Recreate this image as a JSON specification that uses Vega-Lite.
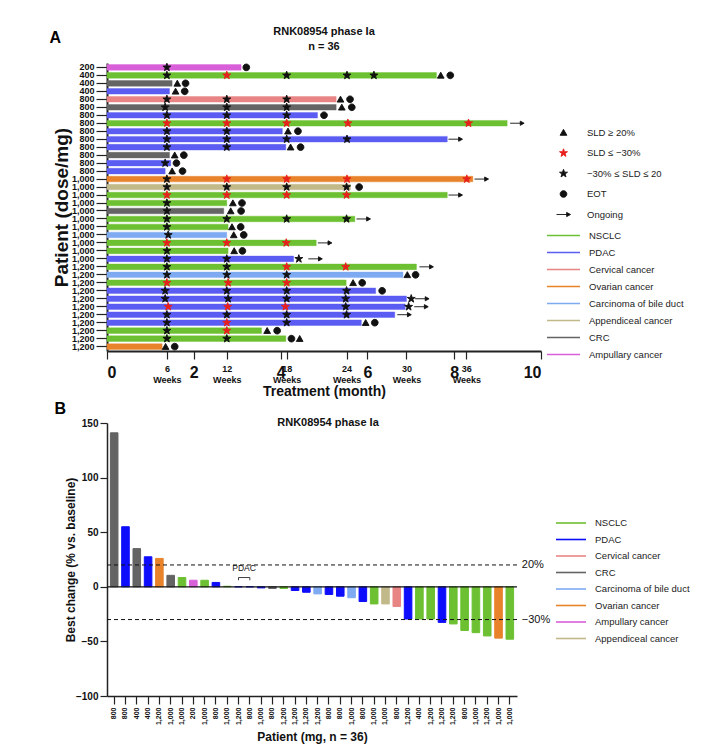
{
  "$schema": "https://vega.github.io/schema/vega-lite/v6.json",
  "padding": {"left": 49, "top": 26, "right": 5, "bottom": 3},
  "config": {
    "font": "Liberation Sans",
    "view": {"stroke": null},
    "axis": {"grid": false, "domainColor": "#222", "tickColor": "#222", "labelColor": "#111", "titleColor": "#111", "labelFontWeight": "bold", "titleFontWeight": "bold"},
    "legend": {"labelFont": "Liberation Sans", "labelColor": "#222", "padding": 0}
  },
  "spacing": 3,
  "resolve": {"scale": {"color": "independent", "shape": "independent", "stroke": "independent"}},
  "vconcat": [
    {
      "title": {"text": "A", "anchor": "start", "fontSize": 16, "fontWeight": "bold", "dy": 24, "dx": -3},
      "vconcat": [
        {
          "width": 434,
          "height": 288,
          "title": {"text": "RNK08954 phase Ia", "subtitle": "n = 36", "fontSize": 11, "fontWeight": "bold", "subtitleFontSize": 11, "subtitleFontWeight": "bold", "subtitleColor": "#111", "subtitlePadding": 4, "color": "#111", "offset": 9, "anchor": "middle"},
          "encoding": {
            "y": {"field": "p", "type": "nominal", "scale": {"paddingInner": 0.3, "paddingOuter": 0.2},
              "axis": {"title": "Patient (dose/mg)", "titleFontSize": 19, "labelFontSize": 9, "tickSize": 11, "labelPadding": 2, "domainWidth": 2, "tickWidth": 1.2, "labelExpr": "split(datum.value, '|')[1]", "titlePadding": 0}}
          },
          "layer": [
            {
              "data": {"values": [
                {"p": "01|200", "cancer": "Ampullary cancer", "end": 3.09},
                {"p": "02|400", "cancer": "NSCLC", "end": 7.59},
                {"p": "03|400", "cancer": "CRC", "end": 1.50},
                {"p": "04|400", "cancer": "PDAC", "end": 1.44},
                {"p": "05|800", "cancer": "Cervical cancer", "end": 5.28},
                {"p": "06|800", "cancer": "CRC", "end": 5.28},
                {"p": "07|800", "cancer": "PDAC", "end": 4.85},
                {"p": "08|800", "cancer": "NSCLC", "end": 9.22},
                {"p": "09|800", "cancer": "PDAC", "end": 4.04},
                {"p": "10|800", "cancer": "PDAC", "end": 7.84},
                {"p": "11|800", "cancer": "PDAC", "end": 4.12},
                {"p": "12|800", "cancer": "CRC", "end": 1.44},
                {"p": "13|800", "cancer": "PDAC", "end": 1.47},
                {"p": "14|800", "cancer": "PDAC", "end": 1.34},
                {"p": "15|1,000", "cancer": "Ovarian cancer", "end": 8.43},
                {"p": "16|1,000", "cancer": "Appendiceal cancer", "end": 5.61},
                {"p": "17|1,000", "cancer": "NSCLC", "end": 7.84},
                {"p": "18|1,000", "cancer": "NSCLC", "end": 2.76},
                {"p": "19|1,000", "cancer": "CRC", "end": 2.69},
                {"p": "20|1,000", "cancer": "NSCLC", "end": 5.71},
                {"p": "21|1,000", "cancer": "NSCLC", "end": 2.79},
                {"p": "22|1,000", "cancer": "Carcinoma of bile duct", "end": 2.76},
                {"p": "23|1,000", "cancer": "NSCLC", "end": 4.82},
                {"p": "24|1,000", "cancer": "NSCLC", "end": 2.79},
                {"p": "25|1,000", "cancer": "PDAC", "end": 4.30},
                {"p": "26|1,200", "cancer": "NSCLC", "end": 7.13},
                {"p": "27|1,200", "cancer": "Carcinoma of bile duct", "end": 6.82},
                {"p": "28|1,200", "cancer": "NSCLC", "end": 5.51},
                {"p": "29|1,200", "cancer": "PDAC", "end": 6.19},
                {"p": "30|1,200", "cancer": "PDAC", "end": 6.90},
                {"p": "31|1,200", "cancer": "PDAC", "end": 6.87},
                {"p": "32|1,200", "cancer": "PDAC", "end": 6.63},
                {"p": "33|1,200", "cancer": "PDAC", "end": 5.86},
                {"p": "34|1,200", "cancer": "NSCLC", "end": 3.56},
                {"p": "35|1,200", "cancer": "NSCLC", "end": 4.12},
                {"p": "36|1,200", "cancer": "Ovarian cancer", "end": 1.27}
              ]},
              "mark": {"type": "bar", "strokeWidth": 0.4},
              "encoding": {
                "x": {"field": "end", "type": "quantitative", "scale": {"domain": [0, 10], "nice": false},
                  "axis": {"orient": "bottom", "values": [0, 2, 4, 6, 8, 10], "format": "d", "labelFontSize": 16, "tickSize": 8, "tickWidth": 1.2, "domainWidth": 2, "labelPadding": 5, "title": "Treatment (month)", "titleFontSize": 14, "titlePadding": 4}},
                "color": {"field": "cancer", "type": "nominal",
                  "scale": {"domain": ["NSCLC", "PDAC", "Cervical cancer", "Ovarian cancer", "Carcinoma of bile duct", "Appendiceal cancer", "CRC", "Ampullary cancer"],
                    "range": ["#6cc031", "#5b5cf2", "#e88484", "#e8832b", "#7eaaf2", "#c2b98a", "#646464", "#d95fd9"]},
                  "legend": {"title": null, "orient": "none", "legendX": 450, "legendY": 166, "symbolType": "M-3,0L3,0", "symbolSize": 121, "symbolStrokeWidth": 1.6, "labelFontSize": 9.5, "labelOffset": 19, "rowPadding": 6}},
                "stroke": {"field": "cancer", "type": "nominal",
                  "scale": {"domain": ["NSCLC", "PDAC", "Cervical cancer", "Ovarian cancer", "Carcinoma of bile duct", "Appendiceal cancer", "CRC", "Ampullary cancer"],
                    "range": ["#6cc031", "#5b5cf2", "#e88484", "#e8832b", "#7eaaf2", "#c2b98a", "#646464", "#d95fd9"]},
                  "legend": {"title": null, "orient": "none", "legendX": 450, "legendY": 166, "symbolType": "M-3,0L3,0", "symbolSize": 121, "symbolStrokeWidth": 1.6, "labelFontSize": 9.5, "labelOffset": 19, "rowPadding": 6}}
              }
            },
            {
              "data": {"values": [
                {"p": "01|200", "t": 1.38, "m": "−30% ≤ SLD ≤ 20"}, {"p": "01|200", "t": 3.21, "m": "EOT"},
                {"p": "02|400", "t": 1.38, "m": "−30% ≤ SLD ≤ 20"}, {"p": "02|400", "t": 2.76, "m": "SLD ≤ −30%"}, {"p": "02|400", "t": 4.14, "m": "−30% ≤ SLD ≤ 20"}, {"p": "02|400", "t": 5.53, "m": "−30% ≤ SLD ≤ 20"}, {"p": "02|400", "t": 6.15, "m": "−30% ≤ SLD ≤ 20"}, {"p": "02|400", "t": 7.69, "m": "SLD ≥ 20%"}, {"p": "02|400", "t": 7.91, "m": "EOT"},
                {"p": "03|400", "t": 1.62, "m": "SLD ≥ 20%"}, {"p": "03|400", "t": 1.81, "m": "EOT"},
                {"p": "04|400", "t": 1.58, "m": "SLD ≥ 20%"}, {"p": "04|400", "t": 1.79, "m": "EOT"},
                {"p": "05|800", "t": 1.38, "m": "−30% ≤ SLD ≤ 20"}, {"p": "05|800", "t": 2.76, "m": "−30% ≤ SLD ≤ 20"}, {"p": "05|800", "t": 4.14, "m": "−30% ≤ SLD ≤ 20"}, {"p": "05|800", "t": 5.38, "m": "SLD ≥ 20%"}, {"p": "05|800", "t": 5.60, "m": "EOT"},
                {"p": "06|800", "t": 1.34, "m": "−30% ≤ SLD ≤ 20"}, {"p": "06|800", "t": 2.76, "m": "−30% ≤ SLD ≤ 20"}, {"p": "06|800", "t": 4.14, "m": "−30% ≤ SLD ≤ 20"}, {"p": "06|800", "t": 5.41, "m": "SLD ≥ 20%"}, {"p": "06|800", "t": 5.64, "m": "EOT"},
                {"p": "07|800", "t": 1.38, "m": "−30% ≤ SLD ≤ 20"}, {"p": "07|800", "t": 2.76, "m": "−30% ≤ SLD ≤ 20"}, {"p": "07|800", "t": 4.14, "m": "−30% ≤ SLD ≤ 20"}, {"p": "07|800", "t": 5.00, "m": "EOT"},
                {"p": "08|800", "t": 1.38, "m": "SLD ≤ −30%"}, {"p": "08|800", "t": 2.76, "m": "SLD ≤ −30%"}, {"p": "08|800", "t": 4.14, "m": "SLD ≤ −30%"}, {"p": "08|800", "t": 5.55, "m": "SLD ≤ −30%"}, {"p": "08|800", "t": 8.33, "m": "SLD ≤ −30%"}, {"p": "08|800", "t": 9.45, "m": "Ongoing"},
                {"p": "09|800", "t": 1.38, "m": "−30% ≤ SLD ≤ 20"}, {"p": "09|800", "t": 2.76, "m": "−30% ≤ SLD ≤ 20"}, {"p": "09|800", "t": 4.17, "m": "SLD ≥ 20%"}, {"p": "09|800", "t": 4.40, "m": "EOT"},
                {"p": "10|800", "t": 1.38, "m": "−30% ≤ SLD ≤ 20"}, {"p": "10|800", "t": 2.76, "m": "−30% ≤ SLD ≤ 20"}, {"p": "10|800", "t": 4.14, "m": "−30% ≤ SLD ≤ 20"}, {"p": "10|800", "t": 5.53, "m": "−30% ≤ SLD ≤ 20"}, {"p": "10|800", "t": 8.03, "m": "Ongoing"},
                {"p": "11|800", "t": 1.38, "m": "−30% ≤ SLD ≤ 20"}, {"p": "11|800", "t": 2.76, "m": "−30% ≤ SLD ≤ 20"}, {"p": "11|800", "t": 4.23, "m": "SLD ≥ 20%"}, {"p": "11|800", "t": 4.46, "m": "EOT"},
                {"p": "12|800", "t": 1.56, "m": "SLD ≥ 20%"}, {"p": "12|800", "t": 1.77, "m": "EOT"},
                {"p": "13|800", "t": 1.34, "m": "−30% ≤ SLD ≤ 20"}, {"p": "13|800", "t": 1.60, "m": "EOT"},
                {"p": "14|800", "t": 1.50, "m": "SLD ≥ 20%"}, {"p": "14|800", "t": 1.74, "m": "EOT"},
                {"p": "15|1,000", "t": 1.38, "m": "−30% ≤ SLD ≤ 20"}, {"p": "15|1,000", "t": 2.76, "m": "SLD ≤ −30%"}, {"p": "15|1,000", "t": 4.14, "m": "SLD ≤ −30%"}, {"p": "15|1,000", "t": 5.53, "m": "SLD ≤ −30%"}, {"p": "15|1,000", "t": 8.29, "m": "SLD ≤ −30%"}, {"p": "15|1,000", "t": 8.63, "m": "Ongoing"},
                {"p": "16|1,000", "t": 1.38, "m": "−30% ≤ SLD ≤ 20"}, {"p": "16|1,000", "t": 2.76, "m": "−30% ≤ SLD ≤ 20"}, {"p": "16|1,000", "t": 4.14, "m": "−30% ≤ SLD ≤ 20"}, {"p": "16|1,000", "t": 5.52, "m": "−30% ≤ SLD ≤ 20"}, {"p": "16|1,000", "t": 5.81, "m": "EOT"},
                {"p": "17|1,000", "t": 1.38, "m": "SLD ≤ −30%"}, {"p": "17|1,000", "t": 2.76, "m": "SLD ≤ −30%"}, {"p": "17|1,000", "t": 4.14, "m": "SLD ≤ −30%"}, {"p": "17|1,000", "t": 5.52, "m": "SLD ≤ −30%"}, {"p": "17|1,000", "t": 8.03, "m": "Ongoing"},
                {"p": "18|1,000", "t": 1.38, "m": "−30% ≤ SLD ≤ 20"}, {"p": "18|1,000", "t": 2.90, "m": "SLD ≥ 20%"}, {"p": "18|1,000", "t": 3.11, "m": "EOT"},
                {"p": "19|1,000", "t": 1.38, "m": "−30% ≤ SLD ≤ 20"}, {"p": "19|1,000", "t": 2.85, "m": "SLD ≥ 20%"}, {"p": "19|1,000", "t": 3.09, "m": "EOT"},
                {"p": "20|1,000", "t": 1.38, "m": "−30% ≤ SLD ≤ 20"}, {"p": "20|1,000", "t": 2.76, "m": "−30% ≤ SLD ≤ 20"}, {"p": "20|1,000", "t": 4.14, "m": "−30% ≤ SLD ≤ 20"}, {"p": "20|1,000", "t": 5.52, "m": "−30% ≤ SLD ≤ 20"}, {"p": "20|1,000", "t": 5.91, "m": "Ongoing"},
                {"p": "21|1,000", "t": 1.38, "m": "−30% ≤ SLD ≤ 20"}, {"p": "21|1,000", "t": 2.88, "m": "SLD ≥ 20%"}, {"p": "21|1,000", "t": 3.08, "m": "EOT"},
                {"p": "22|1,000", "t": 1.41, "m": "−30% ≤ SLD ≤ 20"}, {"p": "22|1,000", "t": 2.92, "m": "SLD ≥ 20%"}, {"p": "22|1,000", "t": 3.15, "m": "EOT"},
                {"p": "23|1,000", "t": 1.38, "m": "SLD ≤ −30%"}, {"p": "23|1,000", "t": 2.76, "m": "SLD ≤ −30%"}, {"p": "23|1,000", "t": 4.13, "m": "SLD ≤ −30%"}, {"p": "23|1,000", "t": 5.02, "m": "Ongoing"},
                {"p": "24|1,000", "t": 1.38, "m": "−30% ≤ SLD ≤ 20"}, {"p": "24|1,000", "t": 2.93, "m": "SLD ≥ 20%"}, {"p": "24|1,000", "t": 3.12, "m": "EOT"},
                {"p": "25|1,000", "t": 1.38, "m": "−30% ≤ SLD ≤ 20"}, {"p": "25|1,000", "t": 2.76, "m": "−30% ≤ SLD ≤ 20"}, {"p": "25|1,000", "t": 4.42, "m": "−30% ≤ SLD ≤ 20"}, {"p": "25|1,000", "t": 4.80, "m": "Ongoing"},
                {"p": "26|1,200", "t": 1.38, "m": "−30% ≤ SLD ≤ 20"}, {"p": "26|1,200", "t": 2.76, "m": "−30% ≤ SLD ≤ 20"}, {"p": "26|1,200", "t": 4.14, "m": "SLD ≤ −30%"}, {"p": "26|1,200", "t": 5.50, "m": "SLD ≤ −30%"}, {"p": "26|1,200", "t": 7.36, "m": "Ongoing"},
                {"p": "27|1,200", "t": 1.38, "m": "−30% ≤ SLD ≤ 20"}, {"p": "27|1,200", "t": 2.76, "m": "−30% ≤ SLD ≤ 20"}, {"p": "27|1,200", "t": 4.14, "m": "−30% ≤ SLD ≤ 20"}, {"p": "27|1,200", "t": 6.92, "m": "SLD ≥ 20%"}, {"p": "27|1,200", "t": 7.11, "m": "EOT"},
                {"p": "28|1,200", "t": 1.38, "m": "SLD ≤ −30%"}, {"p": "28|1,200", "t": 2.79, "m": "SLD ≤ −30%"}, {"p": "28|1,200", "t": 4.14, "m": "SLD ≤ −30%"}, {"p": "28|1,200", "t": 5.67, "m": "SLD ≥ 20%"}, {"p": "28|1,200", "t": 5.88, "m": "EOT"},
                {"p": "29|1,200", "t": 1.34, "m": "−30% ≤ SLD ≤ 20"}, {"p": "29|1,200", "t": 2.76, "m": "−30% ≤ SLD ≤ 20"}, {"p": "29|1,200", "t": 4.14, "m": "−30% ≤ SLD ≤ 20"}, {"p": "29|1,200", "t": 5.52, "m": "−30% ≤ SLD ≤ 20"}, {"p": "29|1,200", "t": 6.34, "m": "EOT"},
                {"p": "30|1,200", "t": 1.34, "m": "−30% ≤ SLD ≤ 20"}, {"p": "30|1,200", "t": 2.79, "m": "−30% ≤ SLD ≤ 20"}, {"p": "30|1,200", "t": 4.14, "m": "−30% ≤ SLD ≤ 20"}, {"p": "30|1,200", "t": 5.50, "m": "−30% ≤ SLD ≤ 20"}, {"p": "30|1,200", "t": 7.01, "m": "−30% ≤ SLD ≤ 20"}, {"p": "30|1,200", "t": 7.26, "m": "Ongoing"},
                {"p": "31|1,200", "t": 1.41, "m": "SLD ≤ −30%"}, {"p": "31|1,200", "t": 2.78, "m": "SLD ≤ −30%"}, {"p": "31|1,200", "t": 4.11, "m": "SLD ≤ −30%"}, {"p": "31|1,200", "t": 5.50, "m": "−30% ≤ SLD ≤ 20"}, {"p": "31|1,200", "t": 6.95, "m": "−30% ≤ SLD ≤ 20"}, {"p": "31|1,200", "t": 7.24, "m": "Ongoing"},
                {"p": "32|1,200", "t": 1.38, "m": "−30% ≤ SLD ≤ 20"}, {"p": "32|1,200", "t": 2.76, "m": "−30% ≤ SLD ≤ 20"}, {"p": "32|1,200", "t": 4.14, "m": "−30% ≤ SLD ≤ 20"}, {"p": "32|1,200", "t": 5.52, "m": "−30% ≤ SLD ≤ 20"}, {"p": "32|1,200", "t": 6.85, "m": "Ongoing"},
                {"p": "33|1,200", "t": 1.38, "m": "−30% ≤ SLD ≤ 20"}, {"p": "33|1,200", "t": 2.76, "m": "SLD ≤ −30%"}, {"p": "33|1,200", "t": 4.14, "m": "−30% ≤ SLD ≤ 20"}, {"p": "33|1,200", "t": 5.96, "m": "SLD ≥ 20%"}, {"p": "33|1,200", "t": 6.17, "m": "EOT"},
                {"p": "34|1,200", "t": 1.38, "m": "−30% ≤ SLD ≤ 20"}, {"p": "34|1,200", "t": 2.76, "m": "SLD ≤ −30%"}, {"p": "34|1,200", "t": 3.69, "m": "SLD ≥ 20%"}, {"p": "34|1,200", "t": 3.92, "m": "EOT"},
                {"p": "35|1,200", "t": 1.38, "m": "−30% ≤ SLD ≤ 20"}, {"p": "35|1,200", "t": 2.76, "m": "−30% ≤ SLD ≤ 20"}, {"p": "35|1,200", "t": 4.25, "m": "EOT"}, {"p": "35|1,200", "t": 4.44, "m": "SLD ≥ 20%"},
                {"p": "36|1,200", "t": 1.35, "m": "SLD ≥ 20%"}, {"p": "36|1,200", "t": 1.56, "m": "EOT"}
              ]},
              "mark": {"type": "point", "filled": true, "opacity": 1, "size": 196, "strokeWidth": 0.9},
              "encoding": {
                "x": {"field": "t", "type": "quantitative", "scale": {"domain": [0, 10], "nice": false},
                  "axis": {"orient": "bottom", "values": [1.38, 2.76, 4.14, 5.52, 6.9, 8.28], "labelExpr": "['' + round(datum.value * 30.44 / 7), 'Weeks']", "labelFontSize": 9, "labelLineHeight": 11, "labelPadding": 5, "tickSize": 8, "tickWidth": 1.2, "domain": false, "title": null,
                    "encode": {"labels": {"update": {"dx": {"signal": "datum.value > 4 && datum.value < 4.5 ? 5 : (datum.value > 8 ? 3 : 0)"}}}}}},
                "shape": {"field": "m", "type": "nominal",
                  "scale": {"domain": ["SLD ≥ 20%", "SLD ≤ −30%", "−30% ≤ SLD ≤ 20", "EOT", "Ongoing"],
                    "range": ["M0,-0.45L0.48,0.4L-0.48,0.4Z", "M0,-0.6L0.141,-0.194L0.571,-0.185L0.228,0.074L0.353,0.485L0,0.24L-0.353,0.485L-0.228,0.074L-0.571,-0.185L-0.141,-0.194Z", "M0,-0.6L0.141,-0.194L0.571,-0.185L0.228,0.074L0.353,0.485L0,0.24L-0.353,0.485L-0.228,0.074L-0.571,-0.185L-0.141,-0.194Z", "M0.48,0A0.48,0.48,0,1,1,-0.48,0A0.48,0.48,0,1,1,0.48,0Z", "M-1,0L0.7,0M0.45,-0.3L1,0L0.45,0.3Z"]},
                  "legend": {"title": null, "orient": "none", "legendX": 449, "legendY": 62, "symbolSize": 196, "symbolStrokeWidth": 0.9, "labelFontSize": 9.5, "labelOffset": 16, "rowPadding": 7.5}},
                "color": {"field": "m", "type": "nominal",
                  "scale": {"domain": ["SLD ≥ 20%", "SLD ≤ −30%", "−30% ≤ SLD ≤ 20", "EOT", "Ongoing"], "range": ["#111", "#e8201c", "#111", "#111", "#111"]},
                  "legend": {"title": null, "orient": "none", "legendX": 449, "legendY": 62, "symbolSize": 196, "symbolStrokeWidth": 0.9, "labelFontSize": 9.5, "labelOffset": 16, "rowPadding": 7.5}},
                "stroke": {"field": "m", "type": "nominal",
                  "scale": {"domain": ["SLD ≥ 20%", "SLD ≤ −30%", "−30% ≤ SLD ≤ 20", "EOT", "Ongoing"], "range": ["#111", "#e8201c", "#111", "#111", "#111"]},
                  "legend": {"title": null, "orient": "none", "legendX": 449, "legendY": 62, "symbolSize": 196, "symbolStrokeWidth": 0.9, "labelFontSize": 9.5, "labelOffset": 16, "rowPadding": 7.5}}
              }
            }
          ],
          "resolve": {"scale": {"color": "independent", "stroke": "independent", "shape": "independent"}, "axis": {"x": "independent"}}
        }
      ]
    },
    {
      "title": {"text": "B", "anchor": "start", "fontSize": 16, "fontWeight": "bold", "dy": 4, "dx": -10},
      "vconcat": [
        {
          "width": 410,
          "height": 273,
          "title": {"text": "RNK08954 phase Ia", "fontSize": 11, "fontWeight": "bold", "color": "#111", "offset": -10, "dx": 16, "anchor": "middle"},
          "layer": [
            {
              "data": {"values": [
                {"p": "01|800", "cancer": "CRC", "v": 141},
                {"p": "02|800", "cancer": "PDAC", "v": 55},
                {"p": "03|400", "cancer": "CRC", "v": 35},
                {"p": "04|400", "cancer": "PDAC", "v": 27.5},
                {"p": "05|1,200", "cancer": "Ovarian cancer", "v": 26},
                {"p": "06|1,000", "cancer": "CRC", "v": 10.5},
                {"p": "07|1,000", "cancer": "NSCLC", "v": 8.5},
                {"p": "08|200", "cancer": "Ampullary cancer", "v": 6},
                {"p": "09|1,000", "cancer": "NSCLC", "v": 6},
                {"p": "10|800", "cancer": "PDAC", "v": 4},
                {"p": "11|1,000", "cancer": "NSCLC", "v": 0.5},
                {"p": "12|1,200", "cancer": "PDAC", "v": 0},
                {"p": "13|800", "cancer": "PDAC", "v": 0},
                {"p": "14|1,000", "cancer": "PDAC", "v": -1},
                {"p": "15|800", "cancer": "CRC", "v": -1.5},
                {"p": "16|1,200", "cancer": "NSCLC", "v": -1.5},
                {"p": "17|1,200", "cancer": "PDAC", "v": -3.4},
                {"p": "18|1,200", "cancer": "PDAC", "v": -5},
                {"p": "19|1,200", "cancer": "Carcinoma of bile duct", "v": -6.5},
                {"p": "20|800", "cancer": "PDAC", "v": -7},
                {"p": "21|800", "cancer": "PDAC", "v": -8.6},
                {"p": "22|1,000", "cancer": "Carcinoma of bile duct", "v": -10},
                {"p": "23|800", "cancer": "PDAC", "v": -13.5},
                {"p": "24|1,000", "cancer": "NSCLC", "v": -15.7},
                {"p": "25|1,000", "cancer": "Appendiceal cancer", "v": -15.7},
                {"p": "26|800", "cancer": "Cervical cancer", "v": -18},
                {"p": "27|1,200", "cancer": "PDAC", "v": -29.5},
                {"p": "28|400", "cancer": "NSCLC", "v": -29.5},
                {"p": "29|1,200", "cancer": "NSCLC", "v": -29.5},
                {"p": "30|1,200", "cancer": "PDAC", "v": -32.6},
                {"p": "31|1,200", "cancer": "NSCLC", "v": -34},
                {"p": "32|800", "cancer": "NSCLC", "v": -40},
                {"p": "33|1,000", "cancer": "NSCLC", "v": -42},
                {"p": "34|1,200", "cancer": "NSCLC", "v": -45},
                {"p": "35|1,000", "cancer": "Ovarian cancer", "v": -47},
                {"p": "36|1,000", "cancer": "NSCLC", "v": -48}
              ]},
              "mark": {"type": "bar"},
              "encoding": {
                "x": {"field": "p", "type": "nominal", "scale": {"paddingInner": 0.33, "paddingOuter": 0.3},
                  "axis": {"labelExpr": "split(datum.value, '|')[1]", "labelAngle": -90, "labelFontSize": 7, "tickSize": 8, "tickWidth": 1.2, "domainWidth": 1.5, "labelPadding": 3, "title": "Patient (mg, n = 36)", "titleFontSize": 12, "titlePadding": 7}},
                "y": {"field": "v", "type": "quantitative", "scale": {"domain": [-100, 150], "nice": false},
                  "axis": {"values": [-100, -75, -50, -25, 0, 25, 50, 75, 100, 125, 150], "labelFontSize": 10, "tickSize": 7, "tickWidth": 1.2, "domainWidth": 1.5, "title": "Best change (% vs. baseline)", "titleFontSize": 12, "titlePadding": -2}},
                "color": {"field": "cancer", "type": "nominal",
                  "scale": {"domain": ["NSCLC", "PDAC", "Cervical cancer", "CRC", "Carcinoma of bile duct", "Ovarian cancer", "Ampullary cancer", "Appendiceal cancer"],
                    "range": ["#6cc031", "#0d0dfb", "#e88484", "#646464", "#7eaaf2", "#e8832b", "#d95fd9", "#c2b98a"]},
                  "legend": {"title": null, "orient": "none", "legendX": 458, "legendY": 94, "symbolType": "M-3,0L3,0", "symbolSize": 100, "symbolStrokeWidth": 1.6, "labelFontSize": 9.5, "labelOffset": 18, "rowPadding": 5.5}},
                "stroke": {"field": "cancer", "type": "nominal",
                  "scale": {"domain": ["NSCLC", "PDAC", "Cervical cancer", "CRC", "Carcinoma of bile duct", "Ovarian cancer", "Ampullary cancer", "Appendiceal cancer"],
                    "range": ["#6cc031", "#0d0dfb", "#e88484", "#646464", "#7eaaf2", "#e8832b", "#d95fd9", "#c2b98a"]},
                  "legend": {"title": null, "orient": "none", "legendX": 458, "legendY": 94, "symbolType": "M-3,0L3,0", "symbolSize": 100, "symbolStrokeWidth": 1.6, "labelFontSize": 9.5, "labelOffset": 18, "rowPadding": 5.5}}
              }
            },
            {
              "data": {"values": [{"v": 0}]},
              "mark": {"type": "rule", "color": "#111", "strokeWidth": 1.3},
              "encoding": {"y": {"field": "v", "type": "quantitative"}}
            },
            {
              "data": {"values": [{"v": 20, "lab": "20%"}, {"v": -30, "lab": "−30%"}]},
              "layer": [
                {
                  "mark": {"type": "rule", "color": "#111", "strokeWidth": 1, "strokeDash": [4, 3]},
                  "encoding": {"y": {"field": "v", "type": "quantitative"}}
                },
                {
                  "mark": {"type": "text", "align": "left", "dx": 12, "fontSize": 11, "color": "#111"},
                  "encoding": {"x": {"datum": "36|1,000"}, "y": {"field": "v", "type": "quantitative"}, "text": {"field": "lab"}}
                }
              ]
            },
            {
              "data": {"values": [{"a": "12|1,200", "b": "13|800", "lo": 6, "hi": 8.5, "lab": "PDAC", "ty": 13}]},
              "layer": [
                {
                  "mark": {"type": "rule", "color": "#111", "strokeWidth": 0.8},
                  "encoding": {"x": {"field": "a"}, "x2": {"field": "b"}, "y": {"field": "hi", "type": "quantitative"}}
                },
                {
                  "mark": {"type": "rule", "color": "#111", "strokeWidth": 0.8},
                  "encoding": {"x": {"field": "a"}, "y": {"field": "lo", "type": "quantitative"}, "y2": {"field": "hi"}}
                },
                {
                  "mark": {"type": "rule", "color": "#111", "strokeWidth": 0.8},
                  "encoding": {"x": {"field": "b"}, "y": {"field": "lo", "type": "quantitative"}, "y2": {"field": "hi"}}
                },
                {
                  "mark": {"type": "text", "fontSize": 8.5, "color": "#111", "dx": 5.5, "baseline": "bottom"},
                  "encoding": {"x": {"field": "a"}, "y": {"field": "ty", "type": "quantitative"}, "text": {"field": "lab"}}
                }
              ]
            }
          ],
          "resolve": {"scale": {"color": "independent", "stroke": "independent"}}
        }
      ]
    }
  ]
}
